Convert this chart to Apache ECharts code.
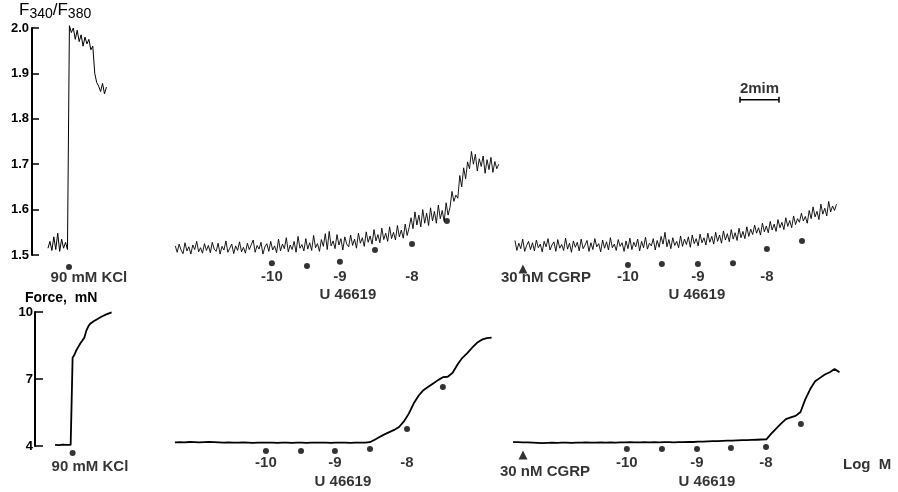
<!DOCTYPE html>
<html>
<head>
<meta charset="utf-8">
<script src="https://cdn.jsdelivr.net/npm/echarts@6/dist/echarts.min.js"></script>
<style>
  html, body { margin: 0; padding: 0; background: #fff; }
  #chart { width: 898px; height: 492px; }
</style>
</head>
<body>
<div id="chart"></div>
<script>
// ---- data (time in min, ratio F340/F380 and force in mN) ----
var ratioStep = 0.1;
var kclRatioStart = 0.82;
var kclRatio = [1.515, 1.530, 1.510, 1.540, 1.512, 1.548, 1.508, 1.535, 1.515, 1.528, 1.512,
    2.005, 1.990, 2.000, 1.975, 1.995, 1.970, 1.985, 1.960, 1.980, 1.965, 1.975, 1.952, 1.960,
    1.900, 1.880, 1.872, 1.860, 1.878, 1.855, 1.870];

var ctrlRatioStart = 7.35;
var ctrlRatio = [
    1.520, 1.506, 1.524, 1.511, 1.503, 1.527, 1.509, 1.518, 1.502, 1.522,
    1.512, 1.530, 1.507, 1.516, 1.504, 1.525, 1.510, 1.521, 1.505, 1.528,
    1.513, 1.508, 1.526, 1.502, 1.519, 1.511, 1.531, 1.506, 1.515, 1.524,
    1.503, 1.520, 1.510, 1.529, 1.507, 1.517, 1.504, 1.526, 1.512, 1.509,
    1.533, 1.506, 1.521, 1.513, 1.528, 1.502, 1.518, 1.525, 1.508, 1.530,
    1.511, 1.520, 1.505, 1.535, 1.509, 1.524, 1.514, 1.538, 1.507, 1.522,
    1.512, 1.530, 1.506, 1.541, 1.515, 1.523, 1.509, 1.536, 1.513, 1.527,
    1.510, 1.543, 1.516, 1.525, 1.508, 1.534, 1.519, 1.547, 1.512, 1.552,
    1.520, 1.531, 1.514, 1.545, 1.522, 1.536, 1.511, 1.540, 1.524, 1.518,
    1.544, 1.521, 1.535, 1.515, 1.548, 1.526, 1.538, 1.519, 1.551, 1.528,
    1.542, 1.524, 1.556, 1.531, 1.545, 1.527, 1.559, 1.534, 1.548, 1.530,
    1.562, 1.536, 1.550, 1.533, 1.565, 1.540, 1.555, 1.537, 1.568, 1.543,
    1.560, 1.582, 1.558, 1.595, 1.566, 1.588, 1.562, 1.600, 1.570, 1.592,
    1.565, 1.604, 1.575, 1.596, 1.570, 1.610, 1.580, 1.598, 1.574, 1.615,
    1.588, 1.605, 1.640, 1.618, 1.632, 1.625, 1.675, 1.650, 1.692, 1.668,
    1.705, 1.690, 1.728, 1.700, 1.722, 1.685, 1.712, 1.695, 1.718, 1.680,
    1.710, 1.688, 1.715, 1.682, 1.706, 1.690, 1.700];

var cgrpRatioStart = 24.78;
var cgrpRatio = [
    1.532, 1.510, 1.526, 1.514, 1.535, 1.508, 1.521, 1.530, 1.512, 1.527,
    1.509, 1.533, 1.516, 1.524, 1.507, 1.530, 1.518, 1.536, 1.511, 1.522,
    1.529, 1.508, 1.534, 1.515, 1.523, 1.510, 1.537, 1.513, 1.526, 1.506,
    1.531, 1.517, 1.528, 1.509, 1.535, 1.514, 1.522, 1.532, 1.508, 1.527,
    1.512, 1.536, 1.518, 1.525, 1.507, 1.533, 1.515, 1.529, 1.511, 1.538,
    1.516, 1.524, 1.510, 1.534, 1.519, 1.527, 1.508, 1.531, 1.514, 1.537,
    1.512, 1.528, 1.518, 1.535, 1.509, 1.530, 1.516, 1.539, 1.513, 1.526,
    1.520, 1.536, 1.511, 1.532, 1.517, 1.541, 1.524, 1.550, 1.518, 1.534,
    1.514, 1.538, 1.521, 1.530, 1.516, 1.542, 1.519, 1.535, 1.523, 1.540,
    1.517, 1.544, 1.525, 1.536, 1.520, 1.546, 1.527, 1.538, 1.522, 1.548,
    1.528, 1.541, 1.524, 1.550, 1.530, 1.544, 1.526, 1.553, 1.533, 1.547,
    1.529, 1.556, 1.535, 1.549, 1.532, 1.559, 1.538, 1.552, 1.536, 1.562,
    1.541, 1.557, 1.545, 1.566, 1.548, 1.560, 1.544, 1.570, 1.551, 1.564,
    1.549, 1.574, 1.555, 1.568, 1.552, 1.578, 1.560, 1.572, 1.556, 1.582,
    1.563, 1.576, 1.560, 1.586, 1.567, 1.580, 1.572, 1.592, 1.575, 1.585,
    1.570, 1.598, 1.580, 1.606, 1.584, 1.596, 1.578, 1.612, 1.590, 1.603,
    1.586, 1.618, 1.595, 1.608, 1.598, 1.612];

var kclForceStart = 1.03;
var kclForceStep = 0.1;
var kclForce = [4.05, 4.05, 4.04, 4.05, 4.06, 4.05, 4.05, 4.05, 4.05,
    7.95, 8.10, 8.30, 8.45, 8.60, 8.72, 8.85, 9.15, 9.35, 9.47, 9.55,
    9.60, 9.65, 9.70, 9.75, 9.80, 9.84, 9.88, 9.92, 9.95, 9.98];

var forceStep = 0.25;
var ctrlForceStart = 7.18;
var ctrlForce = [4.16, 4.17, 4.16, 4.18, 4.17, 4.16, 4.17, 4.18, 4.17, 4.16,
    4.15, 4.16, 4.15, 4.15, 4.16, 4.15, 4.14, 4.15, 4.15, 4.15,
    4.15, 4.14, 4.15, 4.15, 4.14, 4.15, 4.15, 4.14, 4.15, 4.15,
    4.15, 4.15, 4.14, 4.15, 4.15, 4.15, 4.14, 4.15, 4.15, 4.15,
    4.17, 4.28, 4.40, 4.52, 4.62, 4.72, 4.85, 5.10, 5.45, 5.90,
    6.25, 6.50, 6.65, 6.80, 6.95, 7.08, 7.10, 7.28, 7.65, 7.95,
    8.16, 8.40, 8.62, 8.76, 8.83, 8.85];

var cgrpForceStart = 24.53;
var cgrpForce = [4.17, 4.17, 4.16, 4.16, 4.15, 4.14, 4.13, 4.14, 4.15, 4.14,
    4.15, 4.15, 4.14, 4.15, 4.15, 4.16, 4.15, 4.15, 4.16, 4.15,
    4.16, 4.15, 4.16, 4.16, 4.17, 4.16, 4.16, 4.17, 4.16, 4.17,
    4.16, 4.17, 4.17, 4.16, 4.17, 4.17, 4.18, 4.18, 4.20, 4.20,
    4.21, 4.22, 4.22, 4.23, 4.24, 4.24, 4.25, 4.26, 4.26, 4.27,
    4.28, 4.29, 4.30, 4.55, 4.78, 5.00, 5.20, 5.28, 5.35, 5.52,
    6.10, 6.55, 6.90, 7.05, 7.20, 7.30, 7.45, 7.30];

// dose marks (log M), their times and levels under the traces
var doses = [-10, -9.5, -9, -8.5, -8, -7.5];
var ctrlRatioDoseT = [12.31, 14.11, 15.80, 17.60, 19.50, 21.29];
var ctrlRatioDoseY = [1.482, 1.476, 1.485, 1.511, 1.524, 1.575];
var cgrpRatioDoseT = [30.58, 32.32, 34.17, 35.97, 37.71, 39.51];
var cgrpRatioDoseY = [1.478, 1.480, 1.480, 1.482, 1.513, 1.531];
var ctrlForceDoseT = [11.85, 13.65, 15.39, 17.19, 19.09, 20.93];
var ctrlForceDoseY = [3.78, 3.78, 3.78, 3.87, 4.76, 6.64];
var cgrpForceDoseT = [30.37, 32.17, 33.97, 35.71, 37.51, 39.30];
var cgrpForceDoseY = [3.87, 3.87, 3.87, 3.91, 3.96, 4.99];

var kclMark = { ratio: [1.9, 1.4735], force: [1.93, 3.69] };
var cgrpMark = { ratio: [25.19, 1.469], force: [25.04, 3.60] };

var ratioTicks = [1.5, 2.0, 0.1];
var forceTicks = [4, 10, 3];
var scaleBar = [36.33, 38.33, 1.842]; // 2 min

// ---- helpers ----
function trace(start, step, values) {
    return values.map(function(v, i) { return [start + i * step, v]; });
}
function doseDots(ts, ys) {
    return ts.map(function(t, i) { return [t, ys[i]]; });
}
function doseText(ts, level) {
    return ts.map(function(t, i) {
        return { value: [t, level], name: doses[i] % 1 === 0 ? String(doses[i]) : '' };
    });
}

var ink = '#000';
var font = 'Liberation Sans';
var txt = { show: true, color: ink, fontFamily: font, fontSize: 15, fontWeight: 'bold',
    formatter: '{b}', position: 'inside' };

function lineSeries(row, data, width) {
    return {
        type: 'line', xAxisIndex: row, yAxisIndex: row, data: data,
        showSymbol: false, clip: false, silent: true,
        lineStyle: { color: ink, width: width || 1 }
    };
}
function textSeries(row, items) {
    return {
        type: 'scatter', xAxisIndex: row, yAxisIndex: row, symbolSize: 0, clip: false, silent: true,
        data: items, label: txt
    };
}
function dotSeries(row, symbol, size, data) {
    return {
        type: 'scatter', xAxisIndex: row, yAxisIndex: row, symbol: symbol, symbolSize: size,
        clip: false, silent: true, itemStyle: { color: ink }, data: data
    };
}

var domChart = document.getElementById('chart');
var myChart = echarts.init(domChart);

var option = {
    animation: false,
    backgroundColor: '#fff',
    grid: [
        { left: 32, top: 28, width: 838, height: 227 },
        { left: 35, top: 312, width: 838, height: 134 }
    ],
    xAxis: [
        { gridIndex: 0, type: 'value', min: 0, max: 43, show: false },
        { gridIndex: 1, type: 'value', min: 0, max: 43, show: false }
    ],
    yAxis: [{
        gridIndex: 0, type: 'value',
        min: ratioTicks[0], max: ratioTicks[1], interval: ratioTicks[2],
        name: 'F{s|340}/F{s|380}',
        nameGap: 2,
        nameTextStyle: {
            color: ink, fontFamily: font, fontSize: 17, align: 'left', padding: [0, 0, 0, -13],
            rich: { s: { fontSize: 14, fontFamily: font, color: ink, padding: [8, 0, 0, 0] } }
        },
        axisLine: { show: true, lineStyle: { color: ink, width: 2 } },
        axisTick: { show: true, inside: true, length: 7, lineStyle: { color: ink, width: 1.5 } },
        axisLabel: { color: ink, fontFamily: font, fontSize: 13, fontWeight: 'bold', margin: 3,
            formatter: function(v) { return v.toFixed(1); } },
        splitLine: { show: false }
    }, {
        gridIndex: 1, type: 'value',
        min: forceTicks[0], max: forceTicks[1], interval: forceTicks[2],
        name: 'Force,  mN',
        nameGap: 5,
        nameTextStyle: { color: ink, fontFamily: font, fontSize: 14, fontWeight: 'bold',
            align: 'left', padding: [0, 0, 0, -10] },
        axisLine: { show: true, lineStyle: { color: ink, width: 2 } },
        axisTick: { show: true, inside: true, length: 8, lineStyle: { color: ink, width: 1.5 } },
        axisLabel: { color: ink, fontFamily: font, fontSize: 13, fontWeight: 'bold', margin: 2 },
        splitLine: { show: false }
    }],
    series: [
        lineSeries(0, trace(kclRatioStart, ratioStep, kclRatio)),
        lineSeries(0, trace(ctrlRatioStart, ratioStep, ctrlRatio), 0.9),
        lineSeries(0, trace(cgrpRatioStart, ratioStep, cgrpRatio), 0.9),
        lineSeries(1, trace(kclForceStart, kclForceStep, kclForce), 1.8),
        lineSeries(1, trace(ctrlForceStart, forceStep, ctrlForce), 1.8),
        lineSeries(1, trace(cgrpForceStart, forceStep, cgrpForce), 1.8),
        // injection dots
        dotSeries(0, 'circle', 6,
            [kclMark.ratio].concat(doseDots(ctrlRatioDoseT, ctrlRatioDoseY), doseDots(cgrpRatioDoseT, cgrpRatioDoseY))),
        dotSeries(1, 'circle', 6,
            [kclMark.force].concat(doseDots(ctrlForceDoseT, ctrlForceDoseY), doseDots(cgrpForceDoseT, cgrpForceDoseY))),
        // CGRP triangles
        dotSeries(0, 'triangle', 9, [cgrpMark.ratio]),
        dotSeries(1, 'triangle', 9, [cgrpMark.force]),
        // dose labels and captions
        textSeries(0, doseText(ctrlRatioDoseT, 1.4514).concat(doseText(cgrpRatioDoseT, 1.4514), [
            { value: [16.21, 1.4117], name: 'U 46619' },
            { value: [34.12, 1.4117], name: 'U 46619' },
            { value: [2.92, 1.449], name: '90 mM KCl' },
            { value: [26.37, 1.449], name: '30 nM CGRP' },
            { value: [(scaleBar[0] + scaleBar[1]) / 2, 1.866], name: '2mim' }
        ])),
        textSeries(1, doseText(ctrlForceDoseT, 3.24).concat(doseText(cgrpForceDoseT, 3.24), [
            { value: [15.8, 2.39], name: 'U 46619' },
            { value: [34.48, 2.39], name: 'U 46619' },
            { value: [2.82, 3.06], name: '90 mM KCl' },
            { value: [26.17, 2.84], name: '30 nM CGRP' },
            { value: [42.7, 3.15], name: 'Log  M' }
        ])),
        // time scale bar
        {
            type: 'line', xAxisIndex: 0, yAxisIndex: 0, clip: false, silent: true,
            symbol: 'rect', symbolSize: [1.5, 6], itemStyle: { color: ink },
            lineStyle: { color: ink, width: 1.5 },
            data: [[scaleBar[0], scaleBar[2]], [scaleBar[1], scaleBar[2]]]
        }
    ]
};

if (option && typeof option === 'object') {
    myChart.setOption(option);
}
</script>
</body>
</html>
